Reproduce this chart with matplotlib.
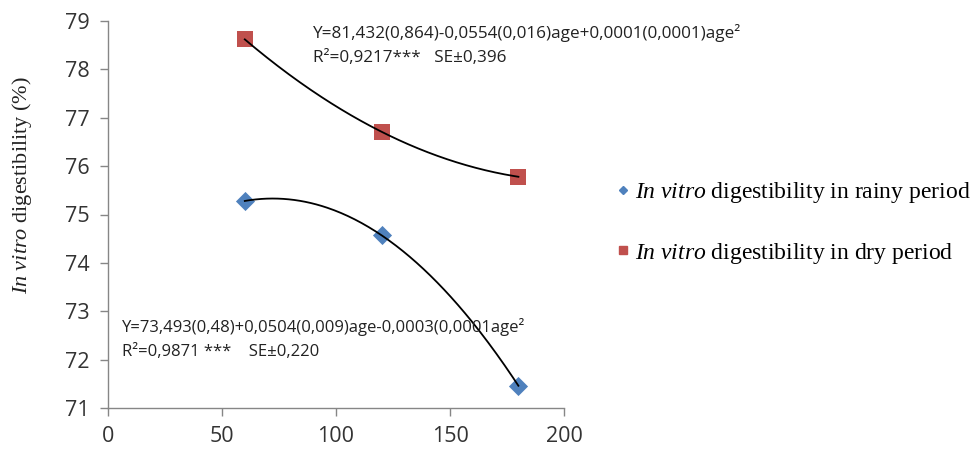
import numpy as np
import matplotlib
matplotlib.use("Agg")
import matplotlib.pyplot as plt
from matplotlib.lines import Line2D

plt.rcParams['mathtext.fontset'] = 'custom'
plt.rcParams['mathtext.rm'] = 'Liberation Serif'
plt.rcParams['mathtext.it'] = 'Liberation Serif:italic'

age = [60, 120, 180]
rainy = [75.28, 74.57, 71.46]
dry = [78.62, 76.71, 75.78]
xticks = [0, 50, 100, 150, 200]
yticks = [71, 72, 73, 74, 75, 76, 77, 78, 79]
eq_dry = ["Y=81,432(0,864)-0,0554(0,016)age+0,0001(0,0001)age²",
          "R²=0,9217***   SE±0,396"]
eq_rainy = ["Y=73,493(0,48)+0,0504(0,009)age-0,0003(0,0001age²",
            "R²=0,9871 ***    SE±0,220"]
legend_labels = [r"$\mathit{In\ vitro}$ digestibility in rainy period",
                 r"$\mathit{In\ vitro}$ digestibility in dry period"]

blue = '#4F81BD'
red = '#C0504D'
gray = '#868686'
sans = 'Open Sans'

fig = plt.figure(figsize=(9.74, 4.55), dpi=100)
W, H = 974, 455
ax = fig.add_axes([108 / W, 1 - 408 / H, (564 - 108) / W, (408 - 21) / H])

for ys, col in [(rainy, blue), (dry, red)]:
    c = np.polyfit(age, ys, 2)
    xs = np.linspace(age[0], age[-1], 200)
    ax.plot(xs, np.polyval(c, xs), color='black', lw=1.3, zorder=3)

ax.scatter(age, rainy, marker='D', s=95, color=blue, zorder=2, linewidths=0)
ax.scatter(age, dry, marker='s', s=125, color=red, zorder=2, linewidths=0)

ax.set_xlim(0, 200)
ax.set_ylim(71, 79)
ax.set_xticks(xticks)
ax.set_yticks(yticks)
for s in ['top', 'right']:
    ax.spines[s].set_visible(False)
for s in ['left', 'bottom']:
    ax.spines[s].set_color(gray)
    ax.spines[s].set_linewidth(1)
ax.tick_params(axis='both', colors=gray, length=6, width=1, direction='out',
               labelsize=15.5, labelcolor='#333333', pad=7)
for lab in ax.get_xticklabels() + ax.get_yticklabels():
    lab.set_fontfamily(sans)

fig.text(22 / W, 1 - 185 / H, r"$\mathit{In\ vitro}$ digestibility (%)",
         fontfamily='Liberation Serif', fontsize=16, color='#222222',
         rotation=90, ha='center', va='center')

tkw = dict(fontfamily=sans, fontsize=12.3, color='#222222', transform=fig.transFigure,
           ha='left', va='center')
fig.text(313 / W, 1 - 33 / H, eq_dry[0], **tkw)
fig.text(313 / W, 1 - 58 / H, eq_dry[1], **tkw)
tkw['fontsize'] = 12
fig.text(122 / W, 1 - 327 / H, eq_rainy[0], **tkw)
fig.text(122 / W, 1 - 352 / H, eq_rainy[1], **tkw)

handles = [Line2D([], [], marker='D', color=blue, linestyle='none', markersize=4.5),
           Line2D([], [], marker='s', color=red, linestyle='none', markersize=5.5)]
fig.legend(handles, legend_labels, loc='upper left', bbox_to_anchor=(597 / W, 1 - 159 / H),
           frameon=False, prop={'family': 'Liberation Serif', 'size': 17},
           labelspacing=1.5, handlelength=0.4, handletextpad=0.3)

fig.savefig('out.png', dpi=100)
